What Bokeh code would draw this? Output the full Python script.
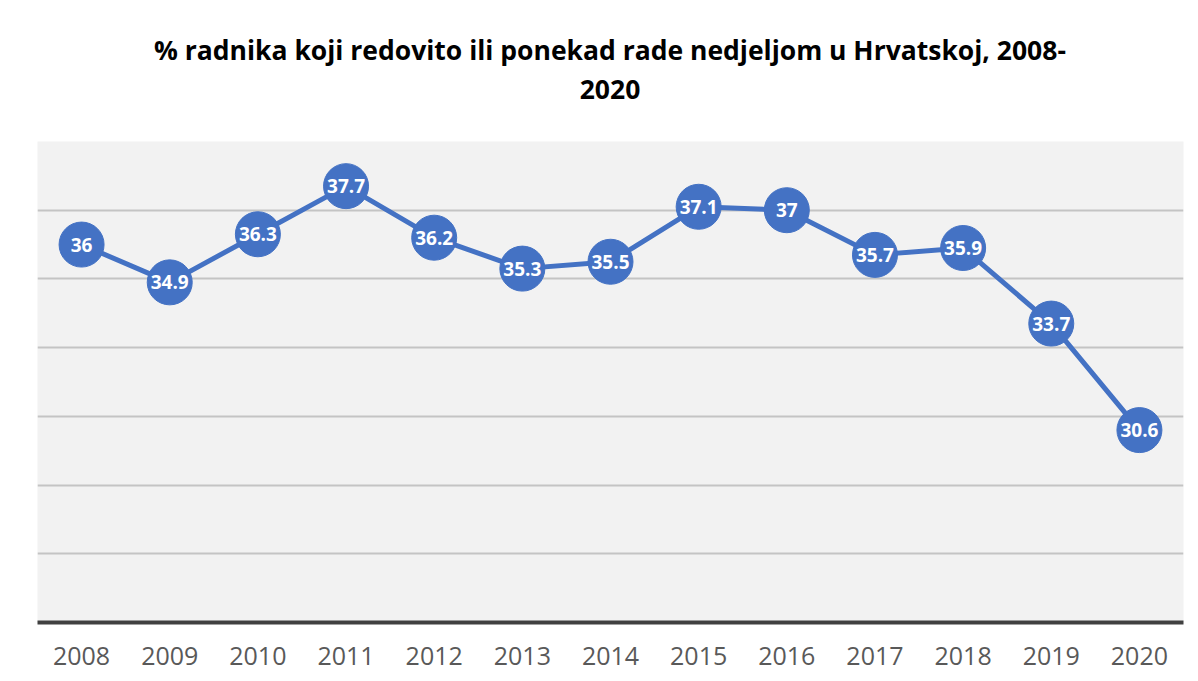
from bokeh.plotting import figure
from bokeh.models import ColumnDataSource, Range1d, FixedTicker, LabelSet, Div
from bokeh.layouts import column
from bokeh.core.properties import value
from bokeh.embed import file_html
from bokeh.resources import INLINE

years = ["2008", "2009", "2010", "2011", "2012", "2013", "2014",
         "2015", "2016", "2017", "2018", "2019", "2020"]
values = [36.0, 34.9, 36.3, 37.7, 36.2, 35.3, 35.5, 37.1, 37.0, 35.7, 35.9, 33.7, 30.6]
labels = ["36", "34.9", "36.3", "37.7", "36.2", "35.3", "35.5", "37.1", "37", "35.7", "35.9", "33.7", "30.6"]
title_line1 = "% radnika koji redovito ili ponekad rade nedjeljom u Hrvatskoj, 2008-"
title_line2 = "2020"

source = ColumnDataSource(data=dict(x=years, y=values, lab=labels))

title_html = (
    '<div style="width:1146px; margin-left:37px; text-align:center; '
    "font-family:'Open Sans', sans-serif; font-size:26.5px; font-weight:bold; "
    'line-height:39px; padding-top:31px; color:#000000; white-space:nowrap;">'
    + title_line1 + "<br>" + title_line2 + "</div>"
)
header = Div(text=title_html, width=1190, height=120, margin=0)

p = figure(x_range=years, y_range=Range1d(25, 39), width=1190, height=553,
           output_backend="svg", toolbar_location=None, margin=0,
           min_border_left=37, min_border_right=7, min_border_bottom=51, min_border_top=21,
           background_fill_color="#F2F2F2", border_fill_color="white",
           outline_line_color=None)

p.yaxis.visible = False
p.yaxis.ticker = FixedTicker(ticks=[25, 27, 29, 31, 33, 35, 37, 39])
p.ygrid.ticker = FixedTicker(ticks=[27, 29, 31, 33, 35, 37, 39])
p.ygrid.grid_line_color = "#C4C4C4"
p.ygrid.grid_line_width = 2
p.xgrid.grid_line_color = None

p.xaxis.axis_line_color = "#404040"
p.xaxis.axis_line_width = 4
p.xaxis.major_tick_line_color = None
p.xaxis.minor_tick_line_color = None
p.xaxis.major_label_text_font = "Open Sans"
p.xaxis.major_label_text_font_size = "25px"
p.xaxis.major_label_text_color = "#595959"
p.xaxis.major_label_standoff = 18

p.line("x", "y", source=source, line_color="#4472C4", line_width=5)
p.scatter("x", "y", source=source, size=45, fill_color="#4472C4", line_color="#4472C4")

lbls = LabelSet(x="x", y="y", text="lab", source=source, text_align="center",
                text_baseline="middle", text_color="white", text_font=value("Open Sans"),
                text_font_style="bold", text_font_size="19px")
p.add_layout(lbls)

layout = column(header, p, spacing=0)

open("out.html", "w").write(file_html(layout, INLINE))
